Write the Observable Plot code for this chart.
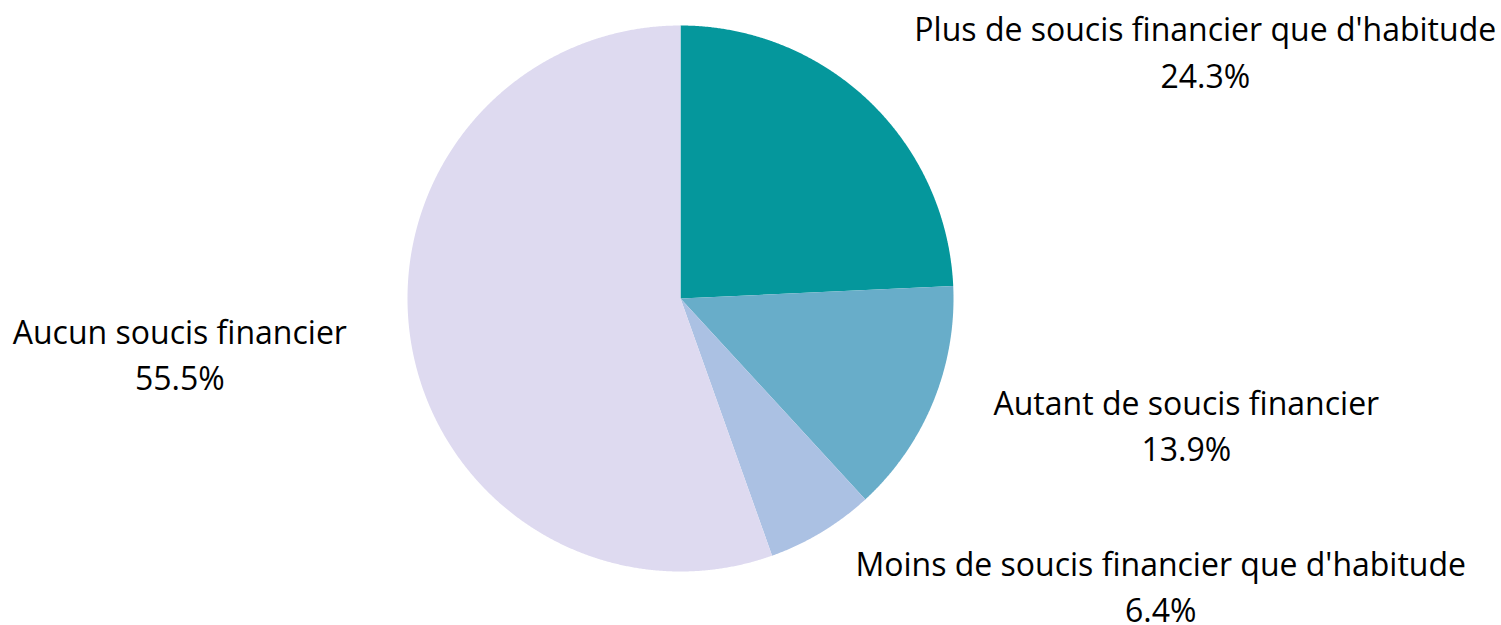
<!DOCTYPE html>
<html>
<head>
<meta charset="utf-8">
<script src="https://cdn.jsdelivr.net/npm/d3@7"></script>
<script src="https://cdn.jsdelivr.net/npm/@observablehq/plot@0.6"></script>
<style>
  html, body { margin: 0; padding: 0; background: #fff; }
  #chart svg { display: block; }
</style>
</head>
<body>
<div id="chart"></div>
<script>
// ---- data ----
const categories = [
  "Plus de soucis financier que d'habitude",
  "Autant de soucis financier",
  "Moins de soucis financier que d'habitude",
  "Aucun soucis financier"
];
const values = [24.3, 13.9, 6.4, 55.5];
const colors = ["#05979C", "#68ADC9", "#ABC1E3", "#DEDAF0"];

// ---- layout ----
const W = 1501, H = 625;
const cx = 680, cy = 298, R = 273;
const fontSize = 32;
const fontFamily = "'Open Sans', sans-serif";
const labelRadius = 1.24;

const rows = categories.map((c, i) => ({name: c, value: values[i]}));
const arcs = d3.pie().sort(null).value(d => d.value)(rows);

// slice polygons built from the pie angles
const slicePts = [];
for (const a of arcs) {
  slicePts.push({name: a.data.name, x: 0, y: 0});
  const n = Math.max(2, Math.ceil((a.endAngle - a.startAngle) / (Math.PI / 720)));
  for (let k = 0; k <= n; k++) {
    const t = a.startAngle + (a.endAngle - a.startAngle) * k / n;
    slicePts.push({name: a.data.name, x: R * Math.sin(t), y: -R * Math.cos(t)});
  }
  slicePts.push({name: a.data.name, x: 0, y: 0});
}

// label measurement
const ctx = document.createElement("canvas").getContext("2d");
ctx.font = `${fontSize}px 'Open Sans'`;
const fmt = d3.format(".1f");
const labels = arcs.map(a => {
  const mid = (a.startAngle + a.endAngle) / 2;
  const ax = labelRadius * R * Math.sin(mid);
  const ay = -labelRadius * R * Math.cos(mid);
  const pct = fmt(a.data.value) + "%";
  const w = Math.max(ctx.measureText(a.data.name).width, ctx.measureText(pct).width);
  const right = Math.sin(mid) >= 0;
  return {
    text: a.data.name + "\n" + pct,
    x: right ? ax + w / 2 : ax - w / 2,
    y: ay
  };
});

const chart = Plot.plot({
  width: W,
  height: H,
  margin: 0,
  style: {fontFamily, background: "#fff"},
  x: {domain: [-cx, W - cx], range: [0, W], axis: null},
  y: {domain: [-cy, H - cy], range: [0, H], axis: null},
  color: {domain: categories, range: colors},
  marks: [
    Plot.line(slicePts, {x: "x", y: "y", z: "name", fill: "name", stroke: "none", curve: "linear"}),
    Plot.text(labels, {
      x: "x", y: "y", text: "text",
      textAnchor: "middle", lineAnchor: "middle",
      lineHeight: 1.44, fontSize, fill: "#000", dy: -4
    })
  ]
});
document.getElementById("chart").appendChild(chart);
</script>
</body>
</html>
